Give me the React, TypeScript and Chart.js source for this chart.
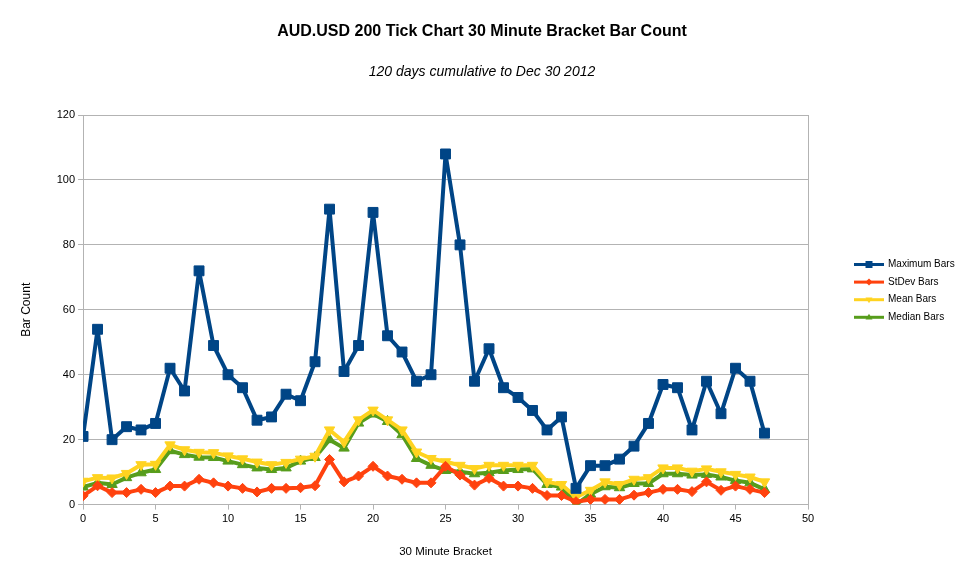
import { useEffect, useRef } from 'react';
import { Chart, registerables, ChartConfiguration, Plugin } from 'chart.js';

Chart.register(...registerables);

const brackets = [
  0, 1, 2, 3, 4, 5, 6, 7, 8, 9, 10, 11, 12, 13, 14, 15, 16, 17, 18, 19, 20, 21, 22, 23,
  24, 25, 26, 27, 28, 29, 30, 31, 32, 33, 34, 35, 36, 37, 38, 39, 40, 41, 42, 43, 44, 45, 46, 47,
];

const maximumBars = [
  21, 54, 20, 24, 23, 25, 42, 35, 72, 49, 40, 36, 26, 27, 34, 32, 44, 91, 41, 49, 90, 52, 47, 38,
  40, 108, 80, 38, 48, 36, 33, 29, 23, 27, 5, 12, 12, 14, 18, 25, 37, 36, 23, 38, 28, 42, 38, 22,
];

const stdevBars = [
  2.7, 5.8, 3.7, 3.7, 4.7, 3.7, 5.7, 5.7, 7.8, 6.7, 5.7, 5, 3.9, 5, 5, 5.2, 5.8, 13.9, 7, 8.8, 11.8, 8.8, 7.8, 6.7,
  6.7, 11.8, 9.1, 6, 8.1, 5.7, 5.7, 5, 2.8, 2.8, 0.9, 1.6, 1.6, 1.6, 2.9, 3.7, 4.7, 4.7, 4, 7, 4.4, 5.7, 4.7, 3.7,
];

const meanBars = [
  7.2, 8.3, 8.2, 9.6, 12.3, 12.4, 18.4, 16.9, 16.1, 16, 15, 14.1, 13.1, 12.3, 13, 14, 14.9, 23, 19.3, 26.1, 29.1, 26.1, 23, 16.2,
  14.2, 13.2, 12.1, 11.1, 12.1, 12.1, 12.1, 12.1, 7, 6.2, 2.3, 4.4, 7, 6.2, 7.8, 8.3, 11.3, 11.3, 10.3, 11, 10.1, 9.3, 8.5, 7,
];

const medianBars = [
  5.4, 6.7, 6.2, 8.3, 9.8, 10.8, 16.6, 15.4, 14.6, 14.5, 13.4, 12.3, 11.3, 10.8, 11.3, 13.4, 14.5, 20, 17.4, 25.1, 27.9, 25.6, 21.5, 14.2,
  12.1, 10.5, 10.1, 9.5, 9.8, 10.5, 10.8, 11, 6.2, 5.4, 0, 3.2, 5.5, 5.2, 6.5, 6.5, 9.5, 9.5, 9.1, 9.3, 8.5, 7.4, 6.7, 4.7,
];

const xTicks = [0, 5, 10, 15, 20, 25, 30, 35, 40, 45, 50];
const yTicks = [0, 20, 40, 60, 80, 100, 120];

const seriesNames = ['Maximum Bars', 'StDev Bars', 'Mean Bars', 'Median Bars'];
const seriesColors = ['#004586', '#ff420e', '#ffd320', '#579d1c'];
const legendMarkers = ['square', 'diamond', 'down', 'up'];

const FONT = "'Liberation Sans', Arial, sans-serif";
const GRID = '#b3b3b3';

const toPoints = (values: number[]) => brackets.map((b, i) => ({ x: b, y: values[i] }));

function drawMarker(ctx: CanvasRenderingContext2D, kind: string, x: number, y: number, r: number) {
  ctx.beginPath();
  if (kind === 'square') {
    ctx.rect(x - r, y - r, r * 2, r * 2);
  } else if (kind === 'diamond') {
    ctx.moveTo(x, y - r);
    ctx.lineTo(x + r, y);
    ctx.lineTo(x, y + r);
    ctx.lineTo(x - r, y);
  } else if (kind === 'down') {
    ctx.moveTo(x - r, y - r * 0.6);
    ctx.lineTo(x + r, y - r * 0.6);
    ctx.lineTo(x, y + r);
  } else {
    ctx.moveTo(x - r, y + r * 0.6);
    ctx.lineTo(x + r, y + r * 0.6);
    ctx.lineTo(x, y - r);
  }
  ctx.closePath();
  ctx.fill();
}

// legend drawn at the side like the office chart: line with a marker in the middle
const sideLegend: Plugin = {
  id: 'sideLegend',
  afterDraw(chart) {
    const ctx = chart.ctx;
    const x0 = chart.chartArea.right + 46;
    const top = 264.5;
    ctx.save();
    chart.data.datasets.forEach((ds, i) => {
      const y = top + i * 17.6;
      const color = seriesColors[i];
      ctx.strokeStyle = color;
      ctx.fillStyle = color;
      ctx.lineWidth = 3;
      ctx.beginPath();
      ctx.moveTo(x0, y);
      ctx.lineTo(x0 + 30, y);
      ctx.stroke();
      drawMarker(ctx, legendMarkers[i], x0 + 15, y, 3.5);
      ctx.fillStyle = '#000';
      ctx.font = `10px ${FONT}`;
      ctx.textBaseline = 'middle';
      ctx.textAlign = 'left';
      ctx.fillText(ds.label as string, x0 + 34, y);
    });
    ctx.restore();
  },
};

export default function App() {
  const chartRef = useRef<HTMLCanvasElement>(null);
  const chartInstance = useRef<Chart | null>(null);

  useEffect(() => {
    document.body.style.margin = '0';
    if (!chartRef.current) return;
    if (chartInstance.current) chartInstance.current.destroy();
    const ctx = chartRef.current.getContext('2d');
    if (!ctx) return;

    const base = {
      borderWidth: 4,
      borderJoinStyle: 'round' as const,
      tension: 0,
      pointBorderWidth: 1,
    };

    const config: ChartConfiguration<'line'> = {
      type: 'line',
      data: {
        datasets: [
          {
            ...base,
            label: seriesNames[0],
            data: toPoints(maximumBars),
            borderColor: seriesColors[0],
            backgroundColor: seriesColors[0],
            pointStyle: 'rect',
            pointRadius: 7,
          },
          {
            ...base,
            label: seriesNames[1],
            data: toPoints(stdevBars),
            borderColor: seriesColors[1],
            backgroundColor: seriesColors[1],
            pointStyle: 'rectRot',
            pointRadius: 5,
          },
          {
            ...base,
            label: seriesNames[2],
            data: toPoints(meanBars),
            borderColor: seriesColors[2],
            backgroundColor: seriesColors[2],
            pointStyle: 'triangle',
            pointRotation: 180,
            pointRadius: 6,
          },
          {
            ...base,
            label: seriesNames[3],
            data: toPoints(medianBars),
            borderColor: seriesColors[3],
            backgroundColor: seriesColors[3],
            pointStyle: 'triangle',
            pointRadius: 6,
          },
        ],
      },
      options: {
        animation: false,
        responsive: true,
        maintainAspectRatio: false,
        layout: { padding: { left: 10, right: 10, top: 0, bottom: 10 } },
        font: { family: FONT },
        plugins: {
          legend: { display: false },
          tooltip: { enabled: false },
          title: {
            display: true,
            text: 'AUD.USD 200 Tick Chart 30 Minute Bracket Bar Count',
            color: '#000',
            font: { family: FONT, size: 16, weight: 'bold' },
            padding: { top: 22.4, bottom: 10 },
          },
          subtitle: {
            display: true,
            text: '120 days cumulative to Dec 30 2012',
            color: '#000',
            font: { family: FONT, size: 14, style: 'italic' },
            padding: { top: 12, bottom: 34.6 },
          },
        },
        scales: {
          x: {
            type: 'linear',
            min: 0,
            max: 50,
            afterBuildTicks: (scale) => {
              scale.ticks = xTicks.map((v) => ({ value: v }));
            },
            grid: {
              color: (c) => (c.tick && c.tick.value === 50 ? GRID : 'rgba(0,0,0,0)'),
              tickColor: GRID,
              tickLength: 5,
            },
            border: { color: GRID },
            ticks: { color: '#000', font: { family: FONT, size: 11 }, padding: 3, maxRotation: 0 },
            title: {
              display: true,
              text: '30 Minute Bracket',
              color: '#000',
              font: { family: FONT, size: 11.5 },
              padding: { top: 16.6, bottom: 10.8 },
            },
          },
          y: {
            min: 0,
            max: 120,
            afterBuildTicks: (scale) => {
              scale.ticks = yTicks.map((v) => ({ value: v }));
            },
            grid: { color: GRID, tickColor: GRID, tickLength: 5 },
            border: { color: GRID },
            ticks: { color: '#000', font: { family: FONT, size: 11 }, padding: 3 },
            title: {
              display: true,
              text: 'Bar Count',
              color: '#000',
              font: { family: FONT, size: 12 },
              padding: { top: 9.8, bottom: 19.5 },
            },
          },
          // empty right axis: only keeps room for the side legend
          legendSpace: {
            type: 'linear',
            position: 'right',
            display: true,
            min: 0,
            max: 1,
            grid: { display: false, drawOnChartArea: false },
            border: { display: false },
            ticks: { display: false },
            afterFit: (scale) => {
              scale.width = 146;
            },
          },
        },
      },
      plugins: [sideLegend],
    };

    chartInstance.current = new Chart(ctx, config);

    return () => {
      if (chartInstance.current) {
        chartInstance.current.destroy();
        chartInstance.current = null;
      }
    };
  }, []);

  return (
    <div style={{ position: 'relative', width: 964, height: 580, background: '#fff' }}>
      <canvas ref={chartRef}></canvas>
    </div>
  );
}
